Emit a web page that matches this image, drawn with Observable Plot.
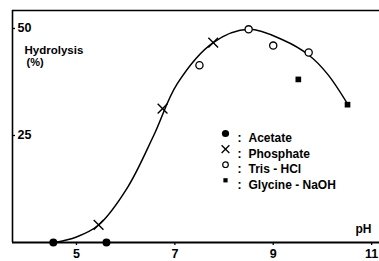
<!DOCTYPE html>
<html><head><meta charset="utf-8">
<script src="https://cdn.jsdelivr.net/npm/d3@7"></script>
<script src="https://cdn.jsdelivr.net/npm/@observablehq/plot@0.6"></script>
<style>
html,body{margin:0;padding:0;background:#fff;}
#chart svg{display:block;}
</style></head><body><div id="chart"></div>
<script>
// Data (pH vs. hydrolysis %)
const acetatePH = [4.53, 5.61];
const acetateH = [0, 0];
const phosphatePH = [5.45, 6.75, 7.78];
const phosphateH = [4.1, 31.3, 46.7];
const trisPH = [7.5, 8.5, 9.0, 9.72];
const trisH = [41.4, 49.8, 46.0, 44.4];
const glycinePH = [9.51, 10.51];
const glycineH = [38.1, 32.2];
const curvePH = [4.55, 5.0, 5.45, 6.04, 6.57, 7.05, 7.78, 8.5, 9.2, 9.72, 10.1, 10.51];
const curveH  = [0, 1.3, 4.1, 12.9, 25.0, 37.1, 46.7, 49.8, 47.3, 43.8, 39.4, 32.4];
const xTicks = [5, 7, 9, 11];
const yTicks = [25, 50];
const legendLabels = ["Acetate", "Phosphate", "Tris - HCl", "Glycine - NaOH"];
const xDomain = [3.7, 11.16];
const yDomain = [0, 54.2];

const rows = (xs, ys) => xs.map((x, i) => ({x, y: ys[i]}));
const font = "'Liberation Sans', Arial, sans-serif";

const symbolStyles = [
  {symbol: "circle", r: 4, fill: "black", stroke: "none"},
  {symbol: "times", r: 4.5, fill: "none", stroke: "black", strokeWidth: 1.4},
  {symbol: "circle", r: 3.6, fill: "white", stroke: "black", strokeWidth: 1.3},
  {symbol: "square", r: 3.2, fill: "black", stroke: "none"}
];
const legendStyles = [
  {symbol: "circle", r: 3.6, fill: "black", stroke: "none"},
  {symbol: "times", r: 3.6, fill: "none", stroke: "black", strokeWidth: 1.3},
  {symbol: "circle", r: 2.8, fill: "white", stroke: "black", strokeWidth: 1.2},
  {symbol: "square", r: 2.4, fill: "black", stroke: "none"}
];
const seriesPH = [acetatePH, phosphatePH, trisPH, glycinePH];
const seriesH = [acetateH, phosphateH, trisH, glycineH];

const legendMarks = legendLabels.flatMap((label, i) => [
  Plot.dot([label], {frameAnchor: "top-left", dx: 213, dy: 123 + 15.6 * i, ...legendStyles[i]}),
  Plot.text([":"], {frameAnchor: "top-left", dx: 227, dy: 123 + 15.6 * i, fontSize: 12, textAnchor: "middle"}),
  Plot.text([label], {frameAnchor: "top-left", dx: 236, dy: 123 + 15.6 * i, fontSize: 12, textAnchor: "start"})
]);

const plot = Plot.plot({
  width: 379, height: 261,
  marginLeft: 12, marginRight: 0, marginTop: 10, marginBottom: 19,
  x: {domain: xDomain},
  y: {domain: yDomain},
  style: {fontFamily: font, fontWeight: "bold", fontSize: "12px", color: "#000", background: "#fff"},
  marks: [
    Plot.ruleY([yDomain[0]], {strokeWidth: 2}),
    Plot.ruleY([yDomain[1]], {strokeWidth: 1.6}),
    Plot.ruleX([xDomain[0]], {strokeWidth: 1.6}),
    Plot.axisX({ticks: xTicks, tickSize: 3, tickPadding: 4, fontSize: 12.5, label: null, strokeWidth: 1.3}),
    Plot.axisY({ticks: yTicks, tickSize: -3, tickPadding: -2, textAnchor: "start", fontSize: 12.5, label: null, strokeWidth: 1.3}),
    Plot.text(["Hydrolysis"], {frameAnchor: "top-left", dx: 12, dy: 35, fontSize: 11.5, textAnchor: "start"}),
    Plot.text(["(%)"], {frameAnchor: "top-left", dx: 14, dy: 48, fontSize: 11, textAnchor: "start"}),
    Plot.text(["pH"], {frameAnchor: "bottom-right", dx: -16, dy: -10, fontSize: 12, textAnchor: "middle"}),
    Plot.line(rows(curvePH, curveH), {x: "x", y: "y", curve: "catmull-rom", strokeWidth: 1.5}),
    ...seriesPH.map((xs, i) => Plot.dot(rows(xs, seriesH[i]), {x: "x", y: "y", ...symbolStyles[i]})),
    ...legendMarks
  ]
});
document.getElementById("chart").appendChild(plot);
</script></body></html>
